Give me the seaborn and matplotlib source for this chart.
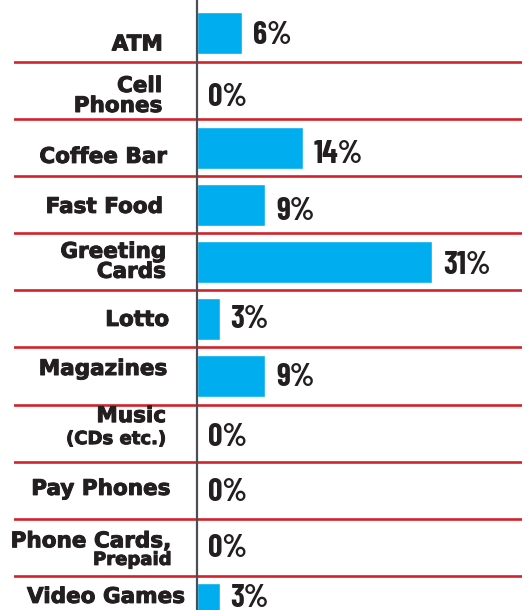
import matplotlib
matplotlib.use("Agg")
import matplotlib.pyplot as plt
import matplotlib.patheffects as pe
import seaborn as sns
import pandas as pd

# ---- data ----
categories = ["ATM", "Cell\nPhones", "Coffee Bar", "Fast Food", "Greeting\nCards",
              "Lotto", "Magazines", "Music\n(CDs etc.)", "Pay Phones",
              "Phone Cards,\nPrepaid", "Video Games"]
values = [6, 0, 14, 9, 31, 3, 9, 0, 0, 0, 3]
value_labels = ["6%", "0%", "14%", "9%", "31%", "3%", "9%", "0%", "0%", "0%", "3%"]

# ---- layout tweaks (pixels) ----
small_second_line = {"Music\n(CDs etc.)", "Phone Cards,\nPrepaid"}
label_right = [163, 162, 167, 163, 166, 169, 167, 166, 170, 171, 185]
label_base1 = [17, 1.5, 15.3, 8.2, -4, 7, -1, -11, 4.7, 0, -1.5]
label_base2 = [None, 21.5, None, None, 16, None, None, 11, None, 17.6, None]
value_base = [11, 15, 15, 15.7, 12.6, 9, 10.4, 13.3, 11.2, 10.1, 2.5]

BAR = "#00AEEF"
RED = "#D2232A"
AXIS = "#4A4F55"
TEXT = "#231F20"

sns.set_style("white")
plt.rcParams["font.family"] = ["DejaVu Sans"]
LABEL_FONT = ["DejaVu Sans"]
VALUE_FONT = ["Barlow Condensed", "DejaVu Sans"]
heavy = [pe.withStroke(linewidth=0.7, foreground=TEXT)]

W, H = 527, 610
fig = plt.figure(figsize=(W / 100, H / 100), dpi=100)
ax = fig.add_axes([14 / W, 0, (522 - 14) / W, 1])

df = pd.DataFrame({"cat": categories, "val": values})
sns.barplot(data=df, x="val", y="cat", orient="h", color=BAR, width=0.735,
            saturation=1, ax=ax, zorder=3)

pxper = 7.58
ZERO = 197
ax.set_xlim(-(ZERO - 14) / pxper, (522 - ZERO) / pxper)
ax.set_ylim(10.098, -0.585)
ax.set_axisbelow(True)

for s in ["top", "right", "bottom"]:
    ax.spines[s].set_visible(False)
ax.spines["left"].set_position(("data", 0))
ax.spines["left"].set_color(AXIS)
ax.spines["left"].set_linewidth(1.6)
ax.spines["left"].set_zorder(4)
ax.set_xticks([])
ax.set_yticks(range(len(categories)))
ax.set_yticklabels([""] * len(categories))
ax.tick_params(axis="y", direction="in", length=4.5, width=1, color=BAR, pad=0)
ax.set_xlabel("")
ax.set_ylabel("")

for i in range(len(categories) - 1):
    ax.axhline(i + 0.5, color=RED, lw=1.9, zorder=2)

for i, (cat, v, lab) in enumerate(zip(categories, values, value_labels)):
    lines = cat.split("\n")
    dx = label_right[i] - ZERO
    ax.annotate(lines[0], xy=(0, i), xytext=(dx, -label_base1[i]), textcoords="offset pixels",
                ha="right", va="baseline", fontsize=15.5, fontweight="bold", color=TEXT,
                family=LABEL_FONT, path_effects=heavy)
    if len(lines) > 1:
        s2 = 13 if cat in small_second_line else 15.5
        ax.annotate(lines[1], xy=(0, i), xytext=(dx, -label_base2[i]), textcoords="offset pixels",
                    ha="right", va="baseline", fontsize=s2, fontweight="bold", color=TEXT,
                    family=LABEL_FONT, path_effects=heavy)
    ax.annotate(lab, xy=(v, i), xytext=(11, -value_base[i]), textcoords="offset pixels",
                ha="left", va="baseline", fontsize=23, fontweight="bold", color=TEXT,
                family=VALUE_FONT)

fig.savefig("out.png", dpi=100)
